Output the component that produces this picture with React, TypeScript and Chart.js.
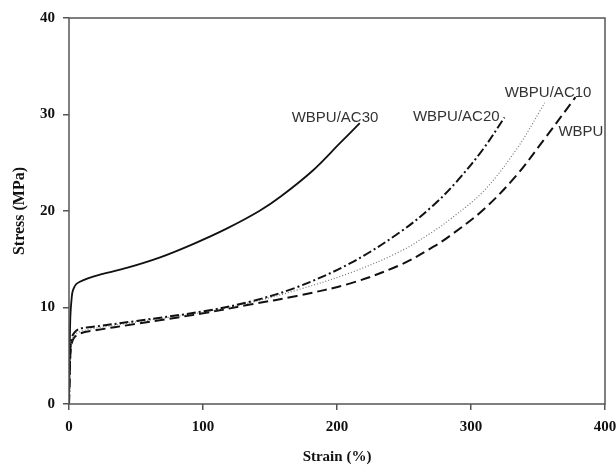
import React, { useEffect, useRef } from "react";
import { Chart, registerables } from "chart.js";

Chart.register(...registerables);

const ac30Strain = [0, 0.5, 1, 2, 3, 6, 18, 43, 68, 93, 118, 142, 158, 182, 202, 217];
const ac30Stress = [0, 5, 9, 11, 11.8, 12.5, 13.2, 14.1, 15.2, 16.6, 18.2, 20.0, 21.5, 24.2, 27, 29.1];

const ac20Strain = [0, 0.5, 1, 2, 4, 8, 18, 50, 100, 135, 170, 210, 247, 272, 289, 309, 325];
const ac20Stress = [0, 3, 5.5, 6.8, 7.4, 7.8, 8.0, 8.6, 9.6, 10.6, 12.1, 14.6, 17.8, 20.6, 23.0, 26.4, 29.7];

const ac10Strain = [0, 0.5, 1, 2, 4, 8, 18, 50, 100, 135, 170, 210, 247, 272, 284, 309, 334, 355];
const ac10Stress = [0, 3, 5.3, 6.5, 7.1, 7.5, 7.8, 8.5, 9.5, 10.5, 11.8, 13.6, 15.8, 17.9, 19.1, 22.0, 26.4, 31.2];

const wbpuStrain = [0, 0.5, 1, 2, 4, 8, 18, 50, 100, 135, 170, 210, 247, 272, 284, 309, 334, 355, 378];
const wbpuStress = [0, 3, 5, 6.3, 6.9, 7.3, 7.6, 8.3, 9.4, 10.3, 11.2, 12.5, 14.4, 16.3, 17.4, 20.1, 23.7, 27.5, 31.8];

const seriesNames = ["WBPU/AC30", "WBPU/AC20", "WBPU/AC10", "WBPU"];
const labelStrain = [198.5, 289, 357.5, 382];
const labelStress = [29.7, 29.8, 32.2, 28.2];

const xTicks = [0, 100, 200, 300, 400];
const yTicks = [0, 10, 20, 30, 40];

const toPts = (xs: number[], ys: number[]) => xs.map((x, i) => ({ x, y: ys[i] }));

export default function App() {
  const ref = useRef<HTMLCanvasElement | null>(null);
  useEffect(() => {
    if (!ref.current) return;
    const tickFont = { family: "'Liberation Serif', 'Times New Roman', serif", size: 15, weight: "bold" as const };
    const boxPlugin = {
      id: "box",
      afterDatasetsDraw(chart: any) {
        const { ctx, chartArea: a, scales } = chart;
        ctx.save();
        ctx.strokeStyle = "#555";
        ctx.lineWidth = 1.5;
        ctx.strokeRect(a.left, a.top, a.right - a.left, a.bottom - a.top);
        ctx.fillStyle = "#333";
        ctx.font = "15px 'Liberation Sans', Arial, sans-serif";
        ctx.textAlign = "center";
        ctx.textBaseline = "middle";
        seriesNames.forEach((n, i) => {
          ctx.fillText(n, scales.x.getPixelForValue(labelStrain[i]), scales.y.getPixelForValue(labelStress[i]));
        });
        ctx.restore();
      },
    };
    const common = { pointRadius: 0, fill: false, tension: 0.35 };
    const chart = new Chart(ref.current, {
      type: "line",
      data: {
        datasets: [
          { ...common, label: seriesNames[0], data: toPts(ac30Strain, ac30Stress), borderColor: "#111", borderWidth: 1.8 },
          { ...common, label: seriesNames[1], data: toPts(ac20Strain, ac20Stress), borderColor: "#111", borderWidth: 2, borderDash: [9, 3, 2, 3] },
          { ...common, label: seriesNames[2], data: toPts(ac10Strain, ac10Stress), borderColor: "#777", borderWidth: 1.2, borderDash: [1, 2] },
          { ...common, label: seriesNames[3], data: toPts(wbpuStrain, wbpuStress), borderColor: "#111", borderWidth: 2, borderDash: [10, 5] },
        ],
      },
      options: {
        animation: false,
        responsive: false,
        parsing: false as any,
        layout: { padding: { left: 0, right: 11, top: 18, bottom: 0 } },
        plugins: { legend: { display: false }, tooltip: { enabled: false } },
        scales: {
          x: {
            type: "linear",
            min: 0,
            max: 400,
            afterBuildTicks: (s: any) => { s.ticks = xTicks.map((v) => ({ value: v })); },
            afterFit: (s: any) => { s.height = 62; s.paddingRight = 0; s.paddingLeft = 0; },
            ticks: { color: "#111", font: tickFont, padding: 8, maxRotation: 0 },
            grid: { drawOnChartArea: false, drawTicks: true, tickLength: 6, color: "#555", lineWidth: 1.5 },
            border: { display: false },
            title: { display: true, text: "Strain (%)", color: "#111", font: { ...tickFont, size: 15 }, padding: { top: 0, bottom: 0 } },
          },
          y: {
            type: "linear",
            min: 0,
            max: 40,
            afterBuildTicks: (s: any) => { s.ticks = yTicks.map((v) => ({ value: v })); },
            afterFit: (s: any) => { s.width = 69; s.paddingTop = 0; s.paddingBottom = 0; },
            ticks: { color: "#111", font: tickFont, padding: 8 },
            grid: { drawOnChartArea: false, drawTicks: true, tickLength: 6, color: "#555", lineWidth: 1.5 },
            border: { display: false },
            title: { display: true, text: "Stress (MPa)", color: "#111", font: { ...tickFont, size: 16 }, padding: { top: 10, bottom: 0 } },
          },
        },
      },
      plugins: [boxPlugin],
    });
    return () => chart.destroy();
  }, []);
  return (
    <div style={{ position: "fixed", left: 0, top: 0, width: 616, height: 466, background: "#fff" }}>
      <canvas ref={ref} width={616} height={466} style={{ width: 616, height: 466 }} />
    </div>
  );
}
